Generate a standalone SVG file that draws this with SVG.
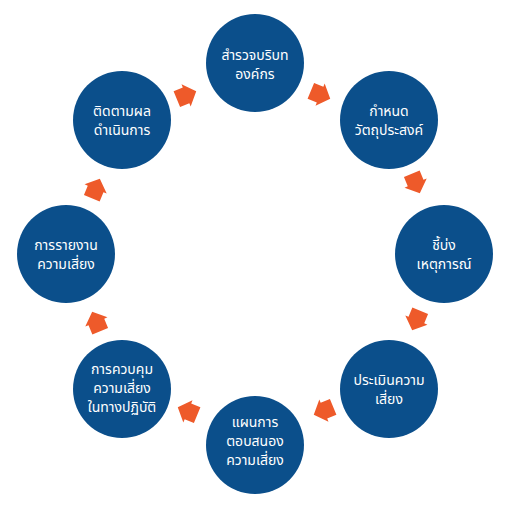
<svg xmlns="http://www.w3.org/2000/svg" width="506" height="510" viewBox="0 0 506 510">
<defs>
<style>
.node circle{fill:#0B4F8B}
.node text{fill:#fff;font-family:"Noto Sans Thai","Noto Sans","DejaVu Sans",sans-serif;font-size:14px;text-anchor:middle}
.arr{fill:#EE5A2A}
</style>
<polygon id="ar" points="-11,-8.5 -1,-8.5 -1,-12 10,0 -1,12 -1,8.5 -11,8.5"/>
</defs>
<rect width="506" height="510" fill="#fff"/>
<g id="n1" class="node"><circle cx="255" cy="63" r="49"/><text x="255" y="60">สำรวจบริบท</text><text x="255" y="79">องค์กร</text></g>
<g id="n2" class="node"><circle cx="389" cy="120" r="49"/><text x="389" y="116">กำหนด</text><text x="389" y="135">วัตถุประสงค์</text></g>
<g id="n3" class="node"><circle cx="444" cy="254" r="49"/><text x="444" y="250">ชี้บ่ง</text><text x="444" y="269">เหตุการณ์</text></g>
<g id="n4" class="node"><circle cx="389" cy="389" r="49"/><text x="389" y="385">ประเมินความ</text><text x="389" y="404">เสี่ยง</text></g>
<g id="n5" class="node"><circle cx="255" cy="445" r="49"/><text x="255" y="427">แผนการ</text><text x="255" y="446">ตอบสนอง</text><text x="255" y="465">ความเสี่ยง</text></g>
<g id="n6" class="node"><circle cx="122" cy="389" r="49"/><text x="122" y="374">การควบคุม</text><text x="122" y="393">ความเสี่ยง</text><text x="122" y="412">ในทางปฏิบัติ</text></g>
<g id="n7" class="node"><circle cx="66" cy="254" r="49"/><text x="66" y="250">การรายงาน</text><text x="66" y="269">ความเสี่ยง</text></g>
<g id="n8" class="node"><circle cx="122" cy="120" r="49"/><text x="122" y="116">ติดตามผล</text><text x="122" y="135">ดำเนินการ</text></g>
<g id="connectors" class="arr">
<use href="#ar" transform="translate(321,95) rotate(22.5)"/>
<use href="#ar" transform="translate(416,184) rotate(67.5)"/>
<use href="#ar" transform="translate(416,321) rotate(112.5)"/>
<use href="#ar" transform="translate(323,411) rotate(157.5)"/>
<use href="#ar" transform="translate(187,411) rotate(202.5)"/>
<use href="#ar" transform="translate(96,321) rotate(247.5)"/>
<use href="#ar" transform="translate(96,188) rotate(292.5)"/>
<use href="#ar" transform="translate(187,95) rotate(337.5)"/>
</g>
</svg>
